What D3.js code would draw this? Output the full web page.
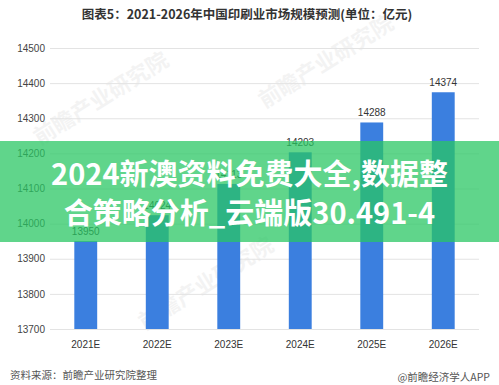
<!DOCTYPE html>
<html>
<head>
<meta charset="utf-8">
<script src="https://cdn.jsdelivr.net/npm/d3@7"></script>
<style>
  html, body { margin: 0; padding: 0; background: #fff; }
  svg { display: block; font-family: "Noto Sans CJK SC", "Noto Sans", sans-serif; }
</style>
</head>
<body>
<svg id="chart"></svg>
<script>
// data
const years = ["2021E", "2022E", "2023E", "2024E", "2025E", "2026E"];
const marketSize = [13950, 14024, 14113, 14203, 14288, 14374];
const yTicks = [13700, 13800, 13900, 14000, 14100, 14200, 14300, 14400, 14500];

const W = 499, H = 385;
const PLOT_LEFT = 50, PLOT_RIGHT = 479;
const PLOT_TOP = 48, PLOT_BOTTOM = 329;

const svg = d3.select("#chart").attr("width", W).attr("height", H);

const x = d3.scaleBand().domain(years).range([PLOT_LEFT, PLOT_RIGHT]).paddingInner(0.68).paddingOuter(0.34);
const y = d3.scaleLinear().domain([13700, 14500]).range([PLOT_BOTTOM, PLOT_TOP]);

// title
svg.append("text")
  .attr("x", 247).attr("y", 19)
  .attr("text-anchor", "middle")
  .attr("font-size", "12.5px")
  .attr("font-weight", "bold")
  .attr("fill", "#333")
  .text("图表5：2021-2026年中国印刷业市场规模预测(单位：亿元)");

// faint watermarks
const marks = [[105, 105], [330, 68], [210, 290]];
marks.forEach(([mx, my]) => {
  svg.append("text")
    .attr("transform", `translate(${mx},${my}) rotate(-32)`)
    .attr("text-anchor", "middle")
    .attr("font-size", "22px")
    .attr("font-weight", "bold")
    .attr("fill", "#000")
    .attr("opacity", 0.045)
    .text("前瞻产业研究院");
});

// grid + y labels
const yAxis = d3.axisLeft(y).tickValues(yTicks).tickFormat(d3.format("d"))
  .tickSize(-(PLOT_RIGHT - PLOT_LEFT)).tickPadding(5);
const gy = svg.append("g").attr("transform", `translate(${PLOT_LEFT},0)`).call(yAxis);
gy.select(".domain").remove();
gy.selectAll(".tick line").attr("stroke", "#e3e3e3");
gy.selectAll(".tick text").attr("fill", "#444").attr("font-size", "10px")
  .attr("font-family", "Liberation Sans, Arial, sans-serif");

// bars
svg.append("g").selectAll("rect")
  .data(marketSize)
  .join("rect")
  .attr("x", (d, i) => x(years[i]))
  .attr("y", d => y(d))
  .attr("width", x.bandwidth())
  .attr("height", d => y(13700) - y(d))
  .attr("fill", "#3b7fdf");

// value labels
svg.append("g").selectAll("text")
  .data(marketSize)
  .join("text")
  .attr("x", (d, i) => x(years[i]) + x.bandwidth() / 2)
  .attr("y", d => y(d) - 6)
  .attr("text-anchor", "middle")
  .attr("font-size", "10px")
  .attr("font-family", "Liberation Sans, Arial, sans-serif")
  .attr("fill", "#333")
  .text(d => d);

// x labels
const xAxis = d3.axisBottom(x).tickSize(0).tickPadding(12);
const gx = svg.append("g").attr("transform", `translate(0,${PLOT_BOTTOM})`).call(xAxis);
gx.select(".domain").remove();
gx.selectAll(".tick text").attr("fill", "#333").attr("font-size", "10px")
  .attr("font-family", "Liberation Sans, Arial, sans-serif");

// footer
svg.append("text")
  .attr("x", 10).attr("y", 379)
  .attr("font-size", "10.5px")
  .attr("fill", "#555")
  .text("资料来源：前瞻产业研究院整理");
svg.append("text")
  .attr("x", 490).attr("y", 381)
  .attr("text-anchor", "end")
  .attr("font-size", "10.5px")
  .attr("fill", "#555")
  .text("@前瞻经济学人APP");

// green overlay banner
svg.append("rect")
  .attr("x", 0).attr("y", 141)
  .attr("width", W).attr("height", 101)
  .attr("fill", "rgb(40,198,99)")
  .attr("opacity", 0.74);

const bannerLines = ["2024新澳资料免费大全,数据整", "合策略分析_云端版30.491-4"];
svg.append("g").selectAll("text")
  .data(bannerLines)
  .join("text")
  .attr("x", W / 2)
  .attr("y", (d, i) => 172 + i * 39)
  .attr("dominant-baseline", "central")
  .attr("text-anchor", "middle")
  .attr("font-size", "29px")
  .attr("font-weight", "bold")
  .attr("fill", "#fff")
  .text(d => d);
</script>
</body>
</html>
